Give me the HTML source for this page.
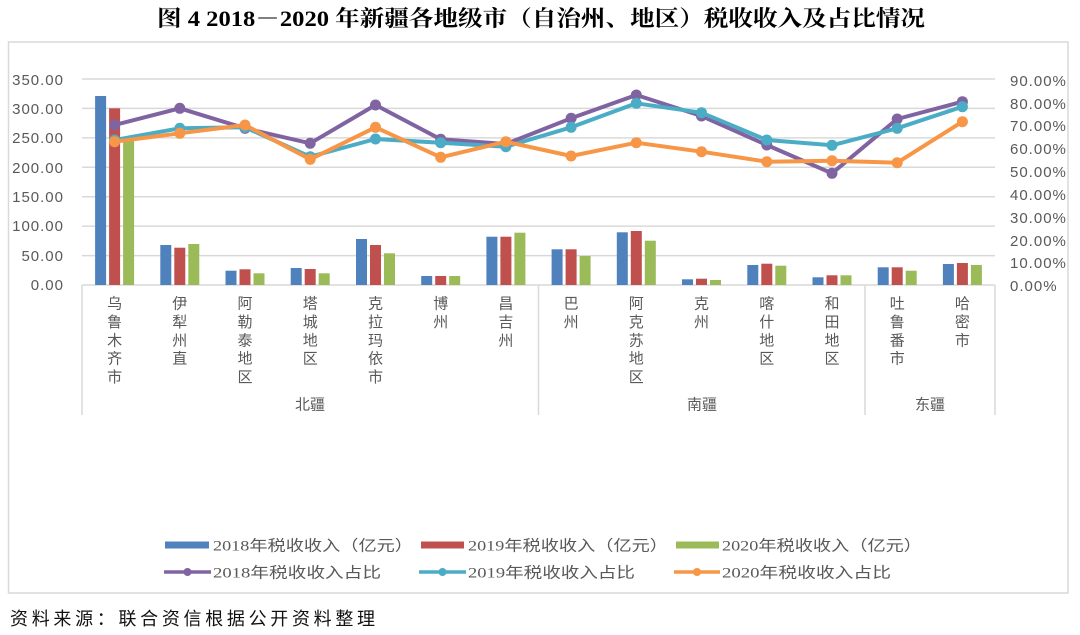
<!DOCTYPE html>
<html><head><meta charset="utf-8"><style>
html,body{margin:0;padding:0;background:#fff;}
svg{display:block;}
</style></head><body>
<svg width="1080" height="635" viewBox="0 0 1080 635" xmlns="http://www.w3.org/2000/svg">
<rect width="1080" height="635" fill="#fff"/>
<text x="157" y="26" font-family="'Liberation Serif','Noto Serif CJK SC',serif" font-weight="bold" font-size="22" fill="#000" textLength="768" lengthAdjust="spacingAndGlyphs">图 4 2018－2020 年新疆各地级市（自治州、地区）税收收入及占比情况</text>
<rect x="8.5" y="42" width="1059.5" height="551" fill="#fff" stroke="#d9d9d9" stroke-width="1.5"/>
<g stroke="#d9d9d9" stroke-width="1.5">
<line x1="82" y1="79" x2="995" y2="79"/>
<line x1="82" y1="108.4" x2="995" y2="108.4"/>
<line x1="82" y1="137.9" x2="995" y2="137.9"/>
<line x1="82" y1="167.3" x2="995" y2="167.3"/>
<line x1="82" y1="196.7" x2="995" y2="196.7"/>
<line x1="82" y1="226.1" x2="995" y2="226.1"/>
<line x1="82" y1="255.6" x2="995" y2="255.6"/>
<line x1="82" y1="285" x2="995" y2="285"/>
<line x1="82" y1="285" x2="82" y2="415"/>
<line x1="538.5" y1="285" x2="538.5" y2="415"/>
<line x1="865" y1="285" x2="865" y2="415"/>
<line x1="995" y1="285" x2="995" y2="415"/>
</g>
<g font-family="'Liberation Sans','Noto Sans CJK SC',sans-serif" font-size="15" fill="#595959" letter-spacing="1" text-anchor="end">
<text x="64" y="85">350.00</text>
<text x="64" y="114">300.00</text>
<text x="64" y="143">250.00</text>
<text x="64" y="173">200.00</text>
<text x="64" y="202">150.00</text>
<text x="64" y="231">100.00</text>
<text x="64" y="261">50.00</text>
<text x="64" y="290">0.00</text>
</g>
<g font-family="'Liberation Sans','Noto Sans CJK SC',sans-serif" font-size="15" fill="#595959" letter-spacing="1">
<text x="1010" y="86">90.00%</text>
<text x="1010" y="109">80.00%</text>
<text x="1010" y="131">70.00%</text>
<text x="1010" y="154">60.00%</text>
<text x="1010" y="177">50.00%</text>
<text x="1010" y="200">40.00%</text>
<text x="1010" y="223">30.00%</text>
<text x="1010" y="246">20.00%</text>
<text x="1010" y="268">10.00%</text>
<text x="1010" y="291">0.00%</text>
</g>
<!-- bars -->
<g fill="#4f81bd">
<rect x="95.1" y="96" width="11" height="189"/>
<rect x="160.3" y="245" width="11" height="40"/>
<rect x="225.5" y="270.7" width="11" height="14.3"/>
<rect x="290.7" y="268" width="11" height="17"/>
<rect x="356.0" y="239" width="11" height="46"/>
<rect x="421.2" y="276" width="11" height="9"/>
<rect x="486.4" y="236.7" width="11" height="48.3"/>
<rect x="551.6" y="249.3" width="11" height="35.7"/>
<rect x="616.8" y="232.3" width="11" height="52.7"/>
<rect x="682.0" y="279.3" width="11" height="5.7"/>
<rect x="747.3" y="265" width="11" height="20"/>
<rect x="812.5" y="277.3" width="11" height="7.7"/>
<rect x="877.7" y="267.3" width="11" height="17.7"/>
<rect x="942.9" y="264" width="11" height="21"/>
</g>
<g fill="#c0504d">
<rect x="109.1" y="108.3" width="11" height="176.7"/>
<rect x="174.3" y="247.7" width="11" height="37.3"/>
<rect x="239.5" y="269.3" width="11" height="15.7"/>
<rect x="304.7" y="269" width="11" height="16"/>
<rect x="370.0" y="245" width="11" height="40"/>
<rect x="435.2" y="276" width="11" height="9"/>
<rect x="500.4" y="236.7" width="11" height="48.3"/>
<rect x="565.6" y="249.3" width="11" height="35.7"/>
<rect x="630.8" y="231" width="11" height="54"/>
<rect x="696.0" y="278.7" width="11" height="6.3"/>
<rect x="761.3" y="263.7" width="11" height="21.3"/>
<rect x="826.5" y="275.3" width="11" height="9.7"/>
<rect x="891.7" y="267.3" width="11" height="17.7"/>
<rect x="956.9" y="263" width="11" height="22"/>
</g>
<g fill="#9bbb59">
<rect x="123.1" y="138" width="11" height="147"/>
<rect x="188.3" y="244" width="11" height="41"/>
<rect x="253.5" y="273.3" width="11" height="11.7"/>
<rect x="318.7" y="273.3" width="11" height="11.7"/>
<rect x="384.0" y="253.3" width="11" height="31.7"/>
<rect x="449.2" y="276" width="11" height="9"/>
<rect x="514.4" y="232.7" width="11" height="52.3"/>
<rect x="579.6" y="256" width="11" height="29"/>
<rect x="644.8" y="240.7" width="11" height="44.3"/>
<rect x="710.0" y="280" width="11" height="5"/>
<rect x="775.3" y="265.7" width="11" height="19.3"/>
<rect x="840.5" y="275.3" width="11" height="9.7"/>
<rect x="905.7" y="270.7" width="11" height="14.3"/>
<rect x="970.9" y="265" width="11" height="20"/>
</g>
<!-- lines -->
<g fill="none" stroke-width="4" stroke-linejoin="round" stroke-linecap="round">
<polyline stroke="#8064a2" points="114.6,125 179.8,108.3 245.0,128.3 310.2,143.3 375.5,105 440.7,139.3 505.9,144 571.1,118.3 636.3,95 701.5,116 766.8,145 832.0,173.3 897.2,119 962.4,101.7"/>
</g>
<g fill="#8064a2">
<circle cx="114.6" cy="125" r="5.5"/><circle cx="179.8" cy="108.3" r="5.5"/><circle cx="245.0" cy="128.3" r="5.5"/><circle cx="310.2" cy="143.3" r="5.5"/><circle cx="375.5" cy="105" r="5.5"/><circle cx="440.7" cy="139.3" r="5.5"/><circle cx="505.9" cy="144" r="5.5"/><circle cx="571.1" cy="118.3" r="5.5"/><circle cx="636.3" cy="95" r="5.5"/><circle cx="701.5" cy="116" r="5.5"/><circle cx="766.8" cy="145" r="5.5"/><circle cx="832.0" cy="173.3" r="5.5"/><circle cx="897.2" cy="119" r="5.5"/><circle cx="962.4" cy="101.7" r="5.5"/>
</g>
<g fill="none" stroke-width="4" stroke-linejoin="round" stroke-linecap="round">
<polyline stroke="#4bacc6" points="114.6,140 179.8,128.3 245.0,127.3 310.2,156.7 375.5,139 440.7,142.7 505.9,146.7 571.1,127.3 636.3,103.3 701.5,112.7 766.8,140 832.0,145.3 897.2,128.3 962.4,106.7"/>
</g>
<g fill="#4bacc6">
<circle cx="114.6" cy="140" r="5.5"/><circle cx="179.8" cy="128.3" r="5.5"/><circle cx="245.0" cy="127.3" r="5.5"/><circle cx="310.2" cy="156.7" r="5.5"/><circle cx="375.5" cy="139" r="5.5"/><circle cx="440.7" cy="142.7" r="5.5"/><circle cx="505.9" cy="146.7" r="5.5"/><circle cx="571.1" cy="127.3" r="5.5"/><circle cx="636.3" cy="103.3" r="5.5"/><circle cx="701.5" cy="112.7" r="5.5"/><circle cx="766.8" cy="140" r="5.5"/><circle cx="832.0" cy="145.3" r="5.5"/><circle cx="897.2" cy="128.3" r="5.5"/><circle cx="962.4" cy="106.7" r="5.5"/>
</g>
<g fill="none" stroke-width="4" stroke-linejoin="round" stroke-linecap="round">
<polyline stroke="#f79646" points="114.6,141.7 179.8,133.3 245.0,125 310.2,159.3 375.5,127.3 440.7,157.3 505.9,141.7 571.1,156 636.3,142.7 701.5,151.7 766.8,161.7 832.0,160.7 897.2,162.7 962.4,121.7"/>
</g>
<g fill="#f79646">
<circle cx="114.6" cy="141.7" r="5.5"/><circle cx="179.8" cy="133.3" r="5.5"/><circle cx="245.0" cy="125" r="5.5"/><circle cx="310.2" cy="159.3" r="5.5"/><circle cx="375.5" cy="127.3" r="5.5"/><circle cx="440.7" cy="157.3" r="5.5"/><circle cx="505.9" cy="141.7" r="5.5"/><circle cx="571.1" cy="156" r="5.5"/><circle cx="636.3" cy="142.7" r="5.5"/><circle cx="701.5" cy="151.7" r="5.5"/><circle cx="766.8" cy="161.7" r="5.5"/><circle cx="832.0" cy="160.7" r="5.5"/><circle cx="897.2" cy="162.7" r="5.5"/><circle cx="962.4" cy="121.7" r="5.5"/>
</g>
<!-- category labels -->
<g font-family="'Liberation Sans','Noto Sans CJK SC',sans-serif" font-size="15" fill="#595959" text-anchor="middle">
<text x="114.6" y="308.5"><tspan x="114.6">乌</tspan><tspan x="114.6" dy="18.4">鲁</tspan><tspan x="114.6" dy="18.4">木</tspan><tspan x="114.6" dy="18.4">齐</tspan><tspan x="114.6" dy="18.4">市</tspan></text>
<text x="179.8" y="308.5"><tspan x="179.8">伊</tspan><tspan x="179.8" dy="18.4">犁</tspan><tspan x="179.8" dy="18.4">州</tspan><tspan x="179.8" dy="18.4">直</tspan></text>
<text x="245.0" y="308.5"><tspan x="245.0">阿</tspan><tspan x="245.0" dy="18.4">勒</tspan><tspan x="245.0" dy="18.4">泰</tspan><tspan x="245.0" dy="18.4">地</tspan><tspan x="245.0" dy="18.4">区</tspan></text>
<text x="310.2" y="308.5"><tspan x="310.2">塔</tspan><tspan x="310.2" dy="18.4">城</tspan><tspan x="310.2" dy="18.4">地</tspan><tspan x="310.2" dy="18.4">区</tspan></text>
<text x="375.5" y="308.5"><tspan x="375.5">克</tspan><tspan x="375.5" dy="18.4">拉</tspan><tspan x="375.5" dy="18.4">玛</tspan><tspan x="375.5" dy="18.4">依</tspan><tspan x="375.5" dy="18.4">市</tspan></text>
<text x="440.7" y="308.5"><tspan x="440.7">博</tspan><tspan x="440.7" dy="18.4">州</tspan></text>
<text x="505.9" y="308.5"><tspan x="505.9">昌</tspan><tspan x="505.9" dy="18.4">吉</tspan><tspan x="505.9" dy="18.4">州</tspan></text>
<text x="571.1" y="308.5"><tspan x="571.1">巴</tspan><tspan x="571.1" dy="18.4">州</tspan></text>
<text x="636.3" y="308.5"><tspan x="636.3">阿</tspan><tspan x="636.3" dy="18.4">克</tspan><tspan x="636.3" dy="18.4">苏</tspan><tspan x="636.3" dy="18.4">地</tspan><tspan x="636.3" dy="18.4">区</tspan></text>
<text x="701.5" y="308.5"><tspan x="701.5">克</tspan><tspan x="701.5" dy="18.4">州</tspan></text>
<text x="766.8" y="308.5"><tspan x="766.8">喀</tspan><tspan x="766.8" dy="18.4">什</tspan><tspan x="766.8" dy="18.4">地</tspan><tspan x="766.8" dy="18.4">区</tspan></text>
<text x="832.0" y="308.5"><tspan x="832.0">和</tspan><tspan x="832.0" dy="18.4">田</tspan><tspan x="832.0" dy="18.4">地</tspan><tspan x="832.0" dy="18.4">区</tspan></text>
<text x="897.2" y="308.5"><tspan x="897.2">吐</tspan><tspan x="897.2" dy="18.4">鲁</tspan><tspan x="897.2" dy="18.4">番</tspan><tspan x="897.2" dy="18.4">市</tspan></text>
<text x="962.4" y="308.5"><tspan x="962.4">哈</tspan><tspan x="962.4" dy="18.4">密</tspan><tspan x="962.4" dy="18.4">市</tspan></text>
<text x="310" y="409.5">北疆</text>
<text x="702" y="409.5">南疆</text>
<text x="930" y="409.5">东疆</text>
</g>
<!-- legend -->
<rect x="165" y="541.5" width="44" height="7" fill="#4f81bd"/>
<rect x="421" y="541.5" width="43" height="7" fill="#c0504d"/>
<rect x="676" y="541.5" width="43" height="7" fill="#9bbb59"/>
<g stroke-width="3.5">
<line x1="164" y1="572" x2="211" y2="572" stroke="#8064a2"/>
<line x1="419" y1="572" x2="466" y2="572" stroke="#4bacc6"/>
<line x1="674" y1="572" x2="720" y2="572" stroke="#f79646"/>
</g>
<circle cx="187.5" cy="572" r="4" fill="#8064a2"/>
<circle cx="442.5" cy="572" r="4" fill="#4bacc6"/>
<circle cx="697" cy="572" r="4" fill="#f79646"/>
<g font-family="'Liberation Serif','Noto Sans CJK SC',serif" font-size="15" fill="#595959">
<text x="213" y="550.5" textLength="200" lengthAdjust="spacingAndGlyphs">2018年税收收入（亿元）</text>
<text x="468" y="550.5" textLength="200" lengthAdjust="spacingAndGlyphs">2019年税收收入（亿元）</text>
<text x="722" y="550.5" textLength="200" lengthAdjust="spacingAndGlyphs">2020年税收收入（亿元）</text>
<text x="213" y="577.5" textLength="168" lengthAdjust="spacingAndGlyphs">2018年税收收入占比</text>
<text x="468" y="577.5" textLength="167" lengthAdjust="spacingAndGlyphs">2019年税收收入占比</text>
<text x="722" y="577.5" textLength="169" lengthAdjust="spacingAndGlyphs">2020年税收收入占比</text>
</g>
<text x="10" y="625" font-family="'Liberation Sans','Noto Sans CJK SC',sans-serif" font-size="18" fill="#111" textLength="365" lengthAdjust="spacing">资料来源：联合资信根据公开资料整理</text>
</svg>
</body></html>
